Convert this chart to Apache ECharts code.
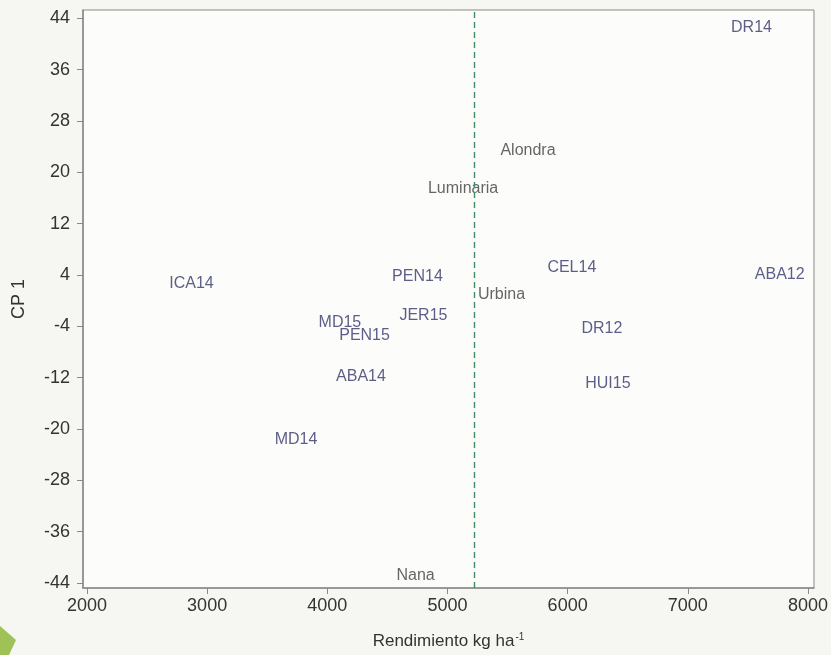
<!DOCTYPE html>
<html>
<head>
<meta charset="utf-8">
<script src="https://cdn.jsdelivr.net/npm/echarts@6/dist/echarts.min.js"></script>
<style>
html,body{margin:0;padding:0;background:#f6f6f3;}
#chart{width:831px;height:655px;}
</style>
</head>
<body>
<div id="chart"></div>
<script>
// Data
var labels = ['DR14','Alondra','Luminaria','ICA14','PEN14','CEL14','ABA12','Urbina','JER15','MD15','PEN15','DR12','ABA14','HUI15','MD14','Nana'];
var yieldValues = [7530, 5670, 5130, 2870, 4750, 6035, 7765, 5450, 4800, 4105, 4310, 6285, 4280, 6335, 3740, 4735];
var cp1Values = [42.6, 23.4, 17.4, 2.6, 3.7, 5.1, 4.0, 0.9, -2.3, -3.4, -5.4, -4.4, -11.9, -12.9, -21.6, -42.9];
var isVariety = [false, true, true, false, false, false, false, true, false, false, false, false, false, false, false, true];
var meanYield = [5220];
var xTicks = [2000, 3000, 4000, 5000, 6000, 7000, 8000];
var yTicks = [-44, -36, -28, -20, -12, -4, 4, 12, 20, 28, 36, 44];

var envColor = '#33366a';
var varColor = '#3e3e3e';

var data = labels.map(function (n, i) {
  return {
    name: n,
    value: [yieldValues[i], cp1Values[i]],
    label: { color: isVariety[i] ? varColor : envColor }
  };
});

var chart = echarts.init(document.getElementById('chart'));
var font = '"Liberation Sans", Arial, sans-serif';
chart.setOption({
  backgroundColor: '#f6f6f3',
  animation: false,
  graphic: [{
    type: 'polygon',
    shape: { points: [[0, 626], [16, 640], [9, 655], [0, 655]] },
    style: { fill: '#8fb83a', opacity: 0.85 },
    silent: true
  }],
  grid: {
    left: 83, right: 17, top: 10, bottom: 67,
    show: true, backgroundColor: '#fcfcfb', borderColor: '#8a8a8a', borderWidth: 1
  },
  xAxis: {
    type: 'value', min: 1967, max: 8050,
    name: 'Rendimiento kg ha{sup|-1}',
    nameLocation: 'middle', nameGap: 44,
    nameTextStyle: {
      fontFamily: font, fontSize: 17, color: '#333333',
      rich: { sup: { fontSize: 10, verticalAlign: 'top', padding: [0, 0, 9, 1], color: '#333333' } }
    },
    axisLine: { show: true, onZero: false, lineStyle: { color: '#8a8a8a', width: 1.5 } },
    axisTick: { show: true, length: 6, lineStyle: { color: '#8a8a8a' }, customValues: xTicks },
    axisLabel: {
      customValues: xTicks, fontFamily: font, fontSize: 18, color: '#333333', margin: 9,
      formatter: function (v) { return String(v); }
    },
    splitLine: { show: false }
  },
  yAxis: {
    type: 'value', min: -44.8, max: 45.3,
    name: 'CP 1',
    nameLocation: 'middle', nameGap: 55, nameRotate: 90,
    nameTextStyle: { fontFamily: font, fontSize: 18, color: '#333333' },
    axisLine: { show: true, onZero: false, lineStyle: { color: '#8a8a8a', width: 1.5 } },
    axisTick: { show: true, length: 6, lineStyle: { color: '#8a8a8a' }, customValues: yTicks },
    axisLabel: {
      customValues: yTicks, fontFamily: font, fontSize: 18, color: '#333333', margin: 13,
      formatter: function (v) { return String(v); }
    },
    splitLine: { show: false }
  },
  series: [{
    type: 'scatter',
    data: data,
    symbolSize: 1,
    itemStyle: { color: 'rgba(0,0,0,0)' },
    label: {
      show: true, position: 'inside',
      formatter: '{b}',
      fontFamily: font, fontSize: 16
    },
    markLine: {
      silent: true, symbol: 'none',
      label: { show: false },
      lineStyle: { color: '#3f8f66', type: [6, 4], width: 1.4, opacity: 1 },
      emphasis: { disabled: true },
      data: meanYield.map(function (v) { return { xAxis: v }; })
    }
  }]
});
</script>
</body>
</html>
